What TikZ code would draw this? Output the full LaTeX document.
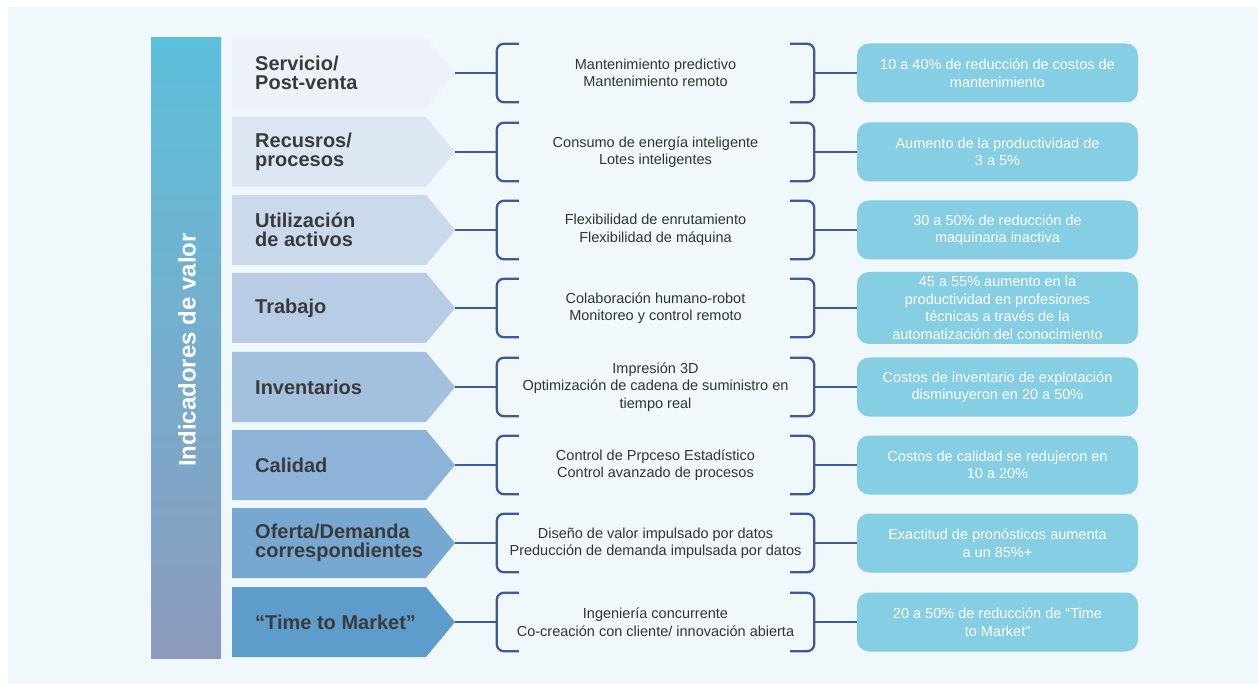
\documentclass[tikz,border=0pt]{standalone}
\usepackage{fontspec}
\setmainfont{Liberation Sans}
\usepackage{tikz}

\definecolor{bgcol}{HTML}{F1F8FC}
\definecolor{bartop}{HTML}{5DC0DB}
\definecolor{barbot}{HTML}{8D9BBE}
\definecolor{linkblue}{HTML}{3E5A98}
\definecolor{boxblue}{HTML}{86CEE4}
\definecolor{labtext}{HTML}{3A3A3A}
\definecolor{midtext}{HTML}{333333}
\definecolor{c1}{HTML}{EDF2F9}
\definecolor{c2}{HTML}{DDE6F3}
\definecolor{c3}{HTML}{CAD9EC}
\definecolor{c4}{HTML}{B8CDE5}
\definecolor{c5}{HTML}{A3C0DF}
\definecolor{c6}{HTML}{8EB3D8}
\definecolor{c7}{HTML}{77A8D2}
\definecolor{c8}{HTML}{5E9DCB}

\begin{document}
\begin{tikzpicture}[x=1pt, y=-1pt,
    lab/.style = {anchor=west, align=left, inner sep=0pt, text=labtext, font=\bfseries\fontsize{20}{18.5}\selectfont},
    mid/.style = {minimum width=317pt, minimum height=58pt, inner sep=0pt, align=center, text=midtext, font=\fontsize{14.5}{17.5}\selectfont},
    res/.style = {fill=boxblue, rounded corners=12pt, minimum width=281pt, minimum height=59pt, inner sep=0pt, align=center, text=white, font=\fontsize{14.5}{17.5}\selectfont},
    brk/.style = {draw=linkblue, line width=2.3pt, rounded corners=7pt},
    link/.style = {draw=linkblue, line width=2.3pt}]
        \useasboundingbox (0,0) rectangle (1258,684);
        \fill[bgcol] (8,7) rectangle (1258,684);

        % side bar
        \shade[top color=bartop, bottom color=barbot] (151,38) rectangle (221,658);
        \node[rotate=90, text=white, font=\bfseries\fontsize{24}{28}\selectfont] (title) at (187,350) {Indicadores de valor};

        % chevrons
        \fill[c1] (232,38) -- ++(194,0) -- ++(29,35) -- ++(-29,35) -- ++(-194,0) -- cycle;
        \fill[c2] (232,117) -- ++(194,0) -- ++(29,35) -- ++(-29,35) -- ++(-194,0) -- cycle;
        \fill[c3] (232,195) -- ++(194,0) -- ++(29,35) -- ++(-29,35) -- ++(-194,0) -- cycle;
        \fill[c4] (232,273) -- ++(194,0) -- ++(29,35) -- ++(-29,35) -- ++(-194,0) -- cycle;
        \fill[c5] (232,352) -- ++(194,0) -- ++(29,35) -- ++(-29,35) -- ++(-194,0) -- cycle;
        \fill[c6] (232,430) -- ++(194,0) -- ++(29,35) -- ++(-29,35) -- ++(-194,0) -- cycle;
        \fill[c7] (232,508) -- ++(194,0) -- ++(29,35) -- ++(-29,35) -- ++(-194,0) -- cycle;
        \fill[c8] (232,587) -- ++(194,0) -- ++(29,35) -- ++(-29,35) -- ++(-194,0) -- cycle;

        \coordinate (t1) at (455,73);
        \coordinate (t2) at (455,152);
        \coordinate (t3) at (455,230);
        \coordinate (t4) at (455,308);
        \coordinate (t5) at (455,387);
        \coordinate (t6) at (455,465);
        \coordinate (t7) at (455,543);
        \coordinate (t8) at (455,622);

        \node[lab] (lab1) at (255,73) {Servicio/\\Post-venta};
        \node[lab] (lab2) at (255,152) {Recusros/\\procesos};
        \node[lab] (lab3) at (255,230) {Utilización\\de activos};
        \node[lab] (lab4) at (255,308) {Trabajo};
        \node[lab] (lab5) at (255,387) {Inventarios};
        \node[lab] (lab6) at (255,465) {Calidad};
        \node[lab] (lab7) at (255,543) {Oferta/Demanda\\correspondientes};
        \node[lab] (lab8) at (255,622) {“Time to Market”};

        % technologies
        \node[mid] (m1) at (655.5,73) {Mantenimiento predictivo\\Mantenimiento remoto};
        \node[mid] (m2) at (655.5,152) {Consumo de energía inteligente\\Lotes inteligentes};
        \node[mid] (m3) at (655.5,230) {Flexibilidad de enrutamiento\\Flexibilidad de máquina};
        \node[mid] (m4) at (655.5,308) {Colaboración humano-robot\\Monitoreo y control remoto};
        \node[mid] (m5) at (655.5,387) {Impresión 3D\\Optimización de cadena de suministro en\\tiempo real};
        \node[mid] (m6) at (655.5,465) {Control de Prpceso Estadístico\\Control avanzado de procesos};
        \node[mid] (m7) at (655.5,543) {Diseño de valor impulsado por datos\\Preducción de demanda impulsada por datos};
        \node[mid] (m8) at (655.5,622) {Ingeniería concurrente\\Co-creación con cliente/ innovación abierta};

        % results
        \node[res] (r1) at (997.5,73) {10 a 40\% de reducción de costos de\\mantenimiento};
        \node[res] (r2) at (997.5,152) {Aumento de la productividad de\\3 a 5\%};
        \node[res] (r3) at (997.5,230) {30 a 50\% de reducción de\\maquinaria inactiva};
        \node[res, minimum height=72pt] (r4) at (997.5,308) {45 a 55\% aumento en la\\productividad en profesiones\\técnicas a través de la\\automatización del conocimiento};
        \node[res] (r5) at (997.5,387) {Costos de inventario de explotación\\disminuyeron en 20 a 50\%};
        \node[res] (r6) at (997.5,465) {Costos de calidad se redujeron en\\10 a 20\%};
        \node[res] (r7) at (997.5,543) {Exactitud de pronósticos aumenta\\a un 85\%+};
        \node[res] (r8) at (997.5,622) {20 a 50\% de reducción de “Time\\to Market”};

        % brackets
        \draw[brk] ([xshift=22pt]m1.north west) -- (m1.north west) -- (m1.south west) -- ([xshift=22pt]m1.south west);
        \draw[brk] ([xshift=-24pt]m1.north east) -- (m1.north east) -- (m1.south east) -- ([xshift=-24pt]m1.south east);
        \draw[brk] ([xshift=22pt]m2.north west) -- (m2.north west) -- (m2.south west) -- ([xshift=22pt]m2.south west);
        \draw[brk] ([xshift=-24pt]m2.north east) -- (m2.north east) -- (m2.south east) -- ([xshift=-24pt]m2.south east);
        \draw[brk] ([xshift=22pt]m3.north west) -- (m3.north west) -- (m3.south west) -- ([xshift=22pt]m3.south west);
        \draw[brk] ([xshift=-24pt]m3.north east) -- (m3.north east) -- (m3.south east) -- ([xshift=-24pt]m3.south east);
        \draw[brk] ([xshift=22pt]m4.north west) -- (m4.north west) -- (m4.south west) -- ([xshift=22pt]m4.south west);
        \draw[brk] ([xshift=-24pt]m4.north east) -- (m4.north east) -- (m4.south east) -- ([xshift=-24pt]m4.south east);
        \draw[brk] ([xshift=22pt]m5.north west) -- (m5.north west) -- (m5.south west) -- ([xshift=22pt]m5.south west);
        \draw[brk] ([xshift=-24pt]m5.north east) -- (m5.north east) -- (m5.south east) -- ([xshift=-24pt]m5.south east);
        \draw[brk] ([xshift=22pt]m6.north west) -- (m6.north west) -- (m6.south west) -- ([xshift=22pt]m6.south west);
        \draw[brk] ([xshift=-24pt]m6.north east) -- (m6.north east) -- (m6.south east) -- ([xshift=-24pt]m6.south east);
        \draw[brk] ([xshift=22pt]m7.north west) -- (m7.north west) -- (m7.south west) -- ([xshift=22pt]m7.south west);
        \draw[brk] ([xshift=-24pt]m7.north east) -- (m7.north east) -- (m7.south east) -- ([xshift=-24pt]m7.south east);
        \draw[brk] ([xshift=22pt]m8.north west) -- (m8.north west) -- (m8.south west) -- ([xshift=22pt]m8.south west);
        \draw[brk] ([xshift=-24pt]m8.north east) -- (m8.north east) -- (m8.south east) -- ([xshift=-24pt]m8.south east);

        \path[link] (t1) edge (m1) (m1) edge (r1);
        \path[link] (t2) edge (m2) (m2) edge (r2);
        \path[link] (t3) edge (m3) (m3) edge (r3);
        \path[link] (t4) edge (m4) (m4) edge (r4);
        \path[link] (t5) edge (m5) (m5) edge (r5);
        \path[link] (t6) edge (m6) (m6) edge (r6);
        \path[link] (t7) edge (m7) (m7) edge (r7);
        \path[link] (t8) edge (m8) (m8) edge (r8);

    \end{tikzpicture}
\end{document}
